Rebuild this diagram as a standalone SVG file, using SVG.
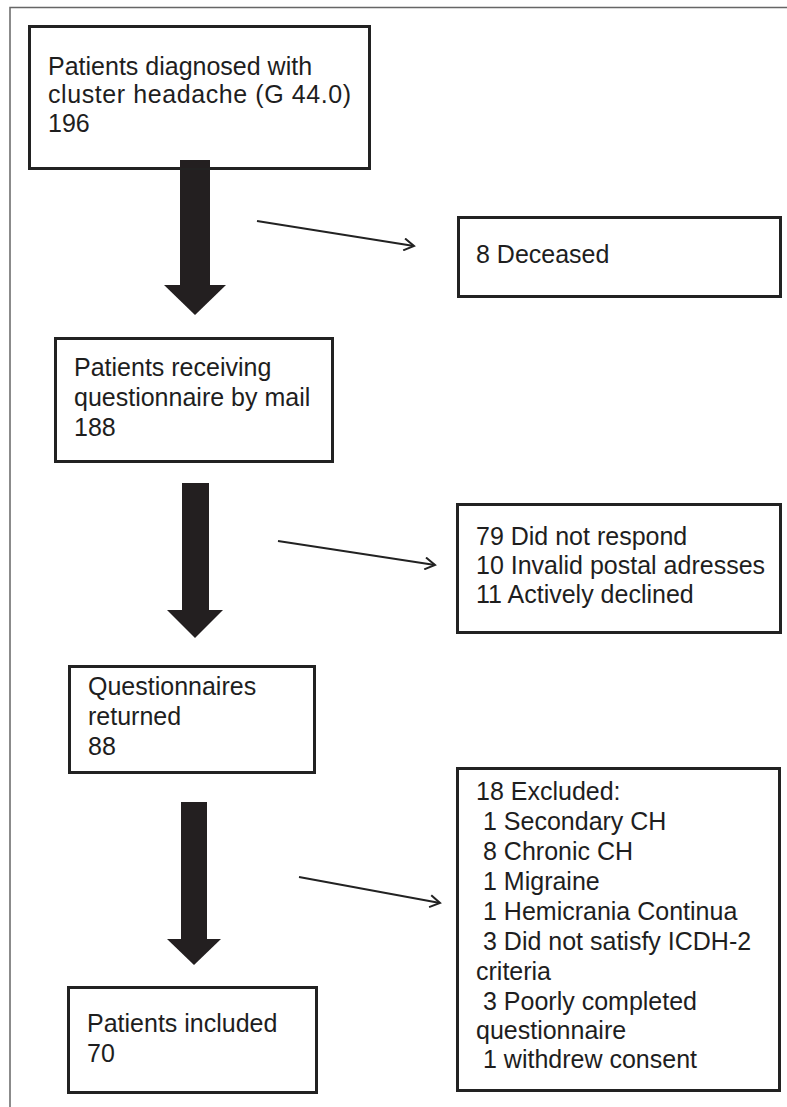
<svg xmlns="http://www.w3.org/2000/svg" width="787" height="1107" viewBox="0 0 787 1107">
<defs>
<style>
.box{fill:#fff;stroke:#222;stroke-width:3}
.t{font-family:"Liberation Sans",Arial,sans-serif;font-size:25px;fill:#1e1e1e}
.big{fill:#231f20}
.thin{stroke:#222;stroke-width:2;fill:none}
.frame{stroke:#666;stroke-width:1.5;fill:none}
</style>
<marker id="open" markerWidth="14" markerHeight="14" refX="12" refY="7" orient="auto" markerUnits="userSpaceOnUse">
<path d="M2,1 L12,7 L2,13" fill="none" stroke="#222" stroke-width="2"/>
</marker>
</defs>
<rect width="787" height="1107" fill="#fff"/>
<path class="frame" d="M10,1107 V7.5 H787"/>

<g id="connectors">
<rect class="big" x="180" y="160" width="30" height="126"/>
<polygon class="big" points="164,285 226,285 195,315"/>
<rect class="big" x="182" y="483" width="27" height="128"/>
<polygon class="big" points="167,610 223,610 195,638"/>
<rect class="big" x="181" y="802" width="26" height="138"/>
<polygon class="big" points="167,939 221,939 194,965"/>
<line class="thin" x1="257" y1="221" x2="414" y2="246" marker-end="url(#open)"/>
<line class="thin" x1="278" y1="541" x2="435" y2="565" marker-end="url(#open)"/>
<line class="thin" x1="299" y1="877" x2="440" y2="903" marker-end="url(#open)"/>
</g>

<g id="n1">
<rect class="box" x="29.5" y="26.5" width="340" height="142"/>
<text class="t" x="48" y="75">Patients diagnosed with</text>
<text class="t" x="48" y="103" textLength="303" lengthAdjust="spacing">cluster headache (G 44.0)</text>
<text class="t" x="48" y="132">196</text>
</g>
<rect class="big" x="180" y="160" width="30" height="8"/>

<g id="n2">
<rect class="box" x="458.5" y="217.5" width="322" height="79"/>
<text class="t" x="476" y="263">8 Deceased</text>
</g>

<g id="n3">
<rect class="box" x="55.5" y="338.5" width="277" height="123"/>
<text class="t" x="74" y="376">Patients receiving</text>
<text class="t" x="74" y="406">questionnaire by mail</text>
<text class="t" x="74" y="436">188</text>
</g>

<g id="n4">
<rect class="box" x="457.5" y="504.5" width="323" height="128"/>
<text class="t" x="476" y="545">79 Did not respond</text>
<text class="t" x="476" y="574">10 Invalid postal adresses</text>
<text class="t" x="476" y="603">11 Actively declined</text>
</g>

<g id="n5">
<rect class="box" x="69.5" y="666.5" width="245" height="106"/>
<text class="t" x="88" y="695">Questionnaires</text>
<text class="t" x="88" y="725">returned</text>
<text class="t" x="88" y="755">88</text>
</g>

<g id="n6">
<rect class="box" x="457.5" y="768.5" width="322" height="322"/>
<text class="t" x="476" y="800">18 Excluded:</text>
<text class="t" x="483" y="830">1 Secondary CH</text>
<text class="t" x="483" y="860">8 Chronic CH</text>
<text class="t" x="483" y="890">1 Migraine</text>
<text class="t" x="483" y="920">1 Hemicrania Continua</text>
<text class="t" x="483" y="950">3 Did not satisfy ICDH-2</text>
<text class="t" x="476" y="980">criteria</text>
<text class="t" x="483" y="1010">3 Poorly completed</text>
<text class="t" x="476" y="1039">questionnaire</text>
<text class="t" x="483" y="1068">1 withdrew consent</text>
</g>

<g id="n7">
<rect class="box" x="68.5" y="987.5" width="248" height="105"/>
<text class="t" x="87" y="1032">Patients included</text>
<text class="t" x="87" y="1062">70</text>
</g>
</svg>
